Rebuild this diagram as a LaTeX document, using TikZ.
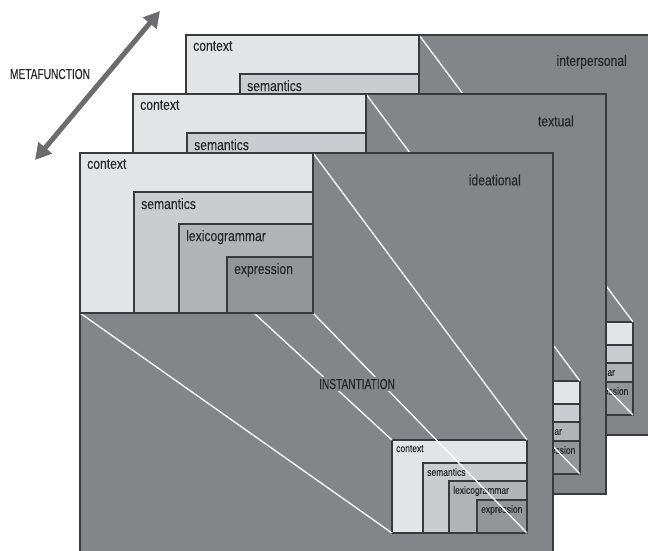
\documentclass[tikz,border=0pt]{standalone}
\usepackage{fontspec}
\setmainfont[FakeStretch=0.81,FakeBold=0.3]{Liberation Sans}
\newfontfamily\capsfont[FakeStretch=0.7,FakeBold=0.3]{Liberation Sans}
\usetikzlibrary{arrows.meta,positioning}
\definecolor{panelgrey}{RGB}{132, 133, 137}
\definecolor{contextgrey}{RGB}{227, 228, 230}
\definecolor{semgrey}{RGB}{203, 204, 207}
\definecolor{lexgrey}{RGB}{178, 179, 182}
\definecolor{exprgrey}{RGB}{148, 149, 153}
\definecolor{edgegrey}{RGB}{58, 58, 60}
\definecolor{arrowgrey}{RGB}{108, 108, 111}
\definecolor{inkgrey}{RGB}{40, 40, 42}

\begin{document}
\begin{tikzpicture}
  [
    x=1pt, y=-1pt,
    panel/.style={fill=panelgrey, draw=edgegrey, line width=1.8pt},
    cbox/.style={draw=edgegrey, line width=1.5pt, anchor=north west, inner sep=0pt, outer sep=0pt},
    beam/.style={white, line width=1.3pt},
    bigtext/.style={font=\fontsize{15}{17}\selectfont, text=inkgrey, inner sep=0pt},
    smalltext/.style={font=\fontsize{10.5}{12}\selectfont, text=inkgrey, inner sep=0pt},
    capstext/.style={font=\capsfont\fontsize{14.5}{16}\selectfont, text=inkgrey},
    metafn/.style={line width=5pt, arrowgrey, {Triangle[width=17pt,length=16pt]}-{Triangle[width=17pt,length=16pt]}}
  ]
  \useasboundingbox (0,0) rectangle (648,550);
  \clip (0,0) rectangle (648,550);

  % metafunction axis
  \coordinate (mfdown) at (35,160);
  \coordinate (mfup) at (160,11);
  \draw[metafn] (mfdown) -- (mfup);
  \node[capstext] (metafunction) at (50,74) {METAFUNCTION};

  % the three strata stacks, back to front
  \foreach \dx/\dy/\fn [count=\i] in {106/-118/interpersonal, 53/-59/textual, 0/0/ideational}
  {
    \begin{scope}[shift={(80+\dx,153+\dy)}]
      \draw[panel] (0,0) rectangle (473,400);
      \node[bigtext, anchor=east] (fn\i) at (441,27) {\fn};

      % instance
      \node[cbox, fill=contextgrey, minimum width=135pt, minimum height=93pt] (sctx\i) at (312,287) {};
      \node[cbox, fill=semgrey, minimum width=104pt, minimum height=70pt] (ssem\i) at (343,310) {};
      \node[cbox, fill=lexgrey, minimum width=78pt, minimum height=52pt] (slex\i) at (369,328) {};
      \node[cbox, fill=exprgrey, minimum width=50pt, minimum height=33pt] (sexp\i) at (397,347) {};
      \node[smalltext, below right=5pt and 4pt of sctx\i.north west] (tsctx\i) {context};
      \node[smalltext, below right=5pt and 4pt of ssem\i.north west] (tssem\i) {semantics};
      \node[smalltext, below right=5pt and 4pt of slex\i.north west] (tslex\i) {lexicogrammar};
      \node[smalltext, below right=5pt and 4pt of sexp\i.north west] (tsexp\i) {expression};

      % projection lines
      \coordinate (tl\i) at (0,0);
      \coordinate (tr\i) at (233,0);
      \coordinate (bl\i) at (0,160);
      \coordinate (br\i) at (233,160);
      \draw[beam] (tl\i) -- (sctx\i.north west);
      \draw[beam] (tr\i) -- (sctx\i.north east);
      \draw[beam] (bl\i) -- (sctx\i.south west);
      \draw[beam] (br\i) -- (sctx\i.south east);

      % potential
      \node[cbox, fill=contextgrey, minimum width=233pt, minimum height=160pt] (ctx\i) at (tl\i) {};
      \node[cbox, fill=semgrey, minimum width=179pt, minimum height=121pt] (sem\i) at (54,39) {};
      \node[cbox, fill=lexgrey, minimum width=134pt, minimum height=89pt] (lex\i) at (99,71) {};
      \node[cbox, fill=exprgrey, minimum width=86pt, minimum height=56pt] (expr\i) at (147,104) {};
      \node[bigtext, below right=6pt and 7pt of ctx\i.north west] (tctx\i) {context};
      \node[bigtext, below right=6pt and 7pt of sem\i.north west] (tsem\i) {semantics};
      \node[bigtext, below right=6pt and 7pt of lex\i.north west] (tlex\i) {lexicogrammar};
      \node[bigtext, below right=6pt and 7pt of expr\i.north west] (texpr\i) {expression};
    \end{scope}
  }

  \node[capstext, fill=panelgrey, inner sep=2pt] (instantiation) at (357,384) {INSTANTIATION};
\end{tikzpicture}
\end{document}
